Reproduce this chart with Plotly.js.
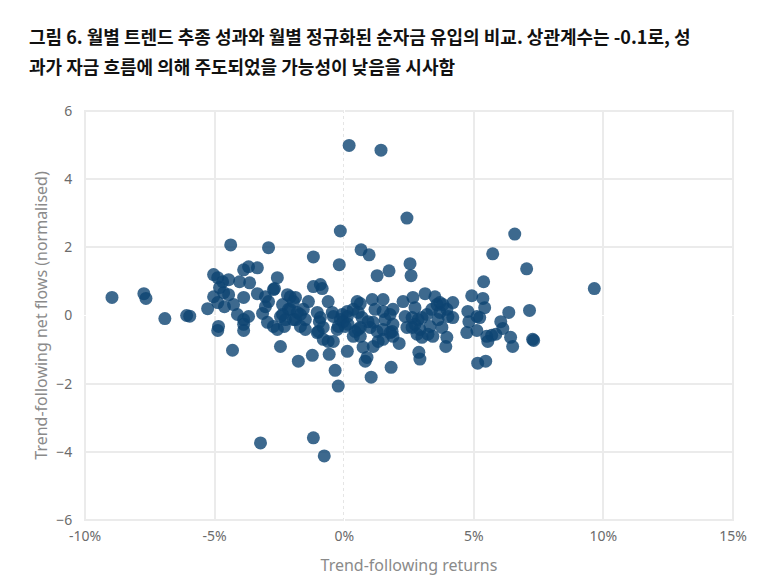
<!DOCTYPE html>
<html>
<head>
<meta charset="utf-8">
<script src="https://cdn.plot.ly/plotly-3.0.1.min.js"></script>
<style>
  html, body { margin: 0; padding: 0; background: #fff; }
  #chart { width: 773px; height: 583px; }
</style>
</head>
<body>
<div id="chart"></div>
<script>
// --- DATA ---
// monthly trend-following returns, in %
const returns = [
  -8.96,-7.73,-7.65,-6.92,-6.08,-5.96,-5.27,-4.85,-4.88,-4.31,
  -4.38,-2.92,-5.04,-4.88,-4.69,-4.46,-4.04,-3.88,-3.69,-3.35,
  -3.65,-2.58,-4.81,-4.65,-4.46,-5.04,-4.88,-4.62,-4.27,-3.88,
  -3.35,-2.69,-3.04,-2.92,-3.04,-3.15,-4.12,-3.88,-3.69,-3.88,
  -3.88,-2.96,-2.73,-2.31,-2.58,-2.19,-1.96,-2.38,-2.15,-1.81,
  -2.46,-2.27,-1.96,-1.69,-1.38,-0.92,-1.19,-0.62,-1.04,-0.96,
  -1.04,-0.81,-0.62,-0.42,-0.42,-0.15,0.12,-0.27,-2.08,-2.08,
  -1.88,-1.50,-1.58,-1.69,-2.38,-1.50,-0.92,-0.81,-1.00,-0.23,
  -0.04,-0.85,-2.73,
  -2.46,-1.77,-1.23,-0.58,-0.35,-0.23,0.12,-3.23,-1.19,-0.77,
  0.19,1.42,2.42,0.65,0.96,-0.15,-0.19,-1.19,2.54,2.58,1.27,1.73,
  6.58,5.73,7.04,5.38,9.65,7.15,7.27,7.31,6.35,4.92,
  5.35,5.42,6.04,6.12,6.42,6.50,5.50,5.69,5.85,5.54,
  5.15,5.46,4.73,4.81,5.12,5.12,5.23,2.88,2.92,1.81,
  1.04,3.96,3.92,2.12,
  0.50,0.62,1.08,1.50,2.27,2.65,3.12,3.50,3.69,4.19,
  0.12,0.35,0.54,-0.08,1.19,1.50,1.88,1.77,1.58,0.92,
  1.12,2.35,2.62,2.73,2.85,2.62,2.92,3.19,3.38,3.58,
  3.69,3.62,3.96,4.19,3.31,3.42,3.23,4.77,3.81,
  0.42,0.62,0.35,0.73,1.12,1.31,1.50,0.88,0.81,1.85,
  1.88,1.27,1.00,0.04,0.62,1.50,1.77,1.88,2.42,2.81,
  -0.46,0.15,2.73,3.00,3.77,0.54,3.00,0.69,4.00,-1.88
];

// monthly normalised net flows
const netFlows = [
  0.53,0.64,0.50,-0.09,0.00,-0.02,0.20,-0.32,-0.44,-1.02,
  2.07,1.99,1.20,1.11,0.99,1.05,0.99,1.34,1.43,1.40,
  0.96,1.11,0.82,0.67,0.61,0.55,0.38,0.26,0.32,0.53,
  0.64,0.79,0.55,0.41,0.26,0.06,0.03,-0.12,-0.03,-0.26,
  -0.44,-0.20,-0.32,-0.32,-0.41,0.61,0.41,0.32,0.18,0.09,
  -0.03,-0.12,-0.12,-0.32,0.41,0.91,0.85,0.41,0.09,-0.18,
  -0.50,-0.70,-0.76,-0.76,-0.03,-0.12,-0.03,-0.41,0.55,0.18,
  -0.12,-0.12,0.18,0.03,0.03,-0.41,-0.06,-0.35,-0.47,-0.32,
  -0.18,0.79,0.76,
  -0.91,-1.34,-1.17,-1.14,-1.61,-2.07,-1.05,-3.74,-3.59,-4.12,
  4.99,4.85,2.86,1.93,1.78,2.48,1.49,1.72,1.52,1.17,1.17,1.31,
  2.39,1.81,1.37,0.99,0.79,0.15,-0.70,-0.73,0.09,0.58,
  0.50,0.23,-0.18,-0.38,-0.64,-0.91,-0.61,-0.58,-0.55,-0.76,
  -1.40,-1.34,-0.50,-0.18,-0.44,-0.03,-0.06,-1.08,-1.28,-1.52,
  -1.81,-0.64,-0.91,-0.82,
  0.41,0.35,0.47,0.47,0.41,0.53,0.64,0.55,0.38,0.38,
  0.12,0.18,0.09,0.03,0.18,0.12,0.18,0.03,-0.12,-0.18,
  -0.20,-0.03,-0.06,-0.26,-0.12,-0.35,-0.41,0.03,0.18,0.32,
  0.09,-0.12,0.18,-0.06,-0.32,-0.61,-0.55,0.12,0.32,
  -0.47,-0.61,-0.61,-0.93,-0.91,-0.76,-0.70,-1.23,-1.34,-0.47,
  -0.61,-0.47,-0.35,-0.32,-0.35,-0.41,-0.50,-0.26,-0.35,-0.55,
  0.09,-0.26,0.23,-0.06,-0.35,-0.41,-0.64,-0.06,-0.03,0.53
];

const xTicks = [-10, -5, 0, 5, 10, 15];
const yTicks = [-6, -4, -2, 0, 2, 4, 6];

const titleLines = [
  '그림 6. 월별 트렌드 추종 성과와 월별 정규화된 순자금 유입의 비교. 상관계수는 -0.1로, 성',
  '과가 자금 흐름에 의해 주도되었을 가능성이 낮음을 시사함'
];

// --- STYLE ---
const tickFont = { family: 'Noto Sans, sans-serif', size: 14, color: '#6b6b6b' };
const axisTitleFont = { family: 'Noto Sans, sans-serif', size: 16, color: '#8a8a8a' };
const gridColor = '#ebebeb';

const trace = {
  type: 'scatter',
  mode: 'markers',
  x: returns,
  y: netFlows,
  marker: {
    size: 13,
    color: 'rgb(12,68,114)',
    opacity: 0.8,
    line: { width: 0 }
  },
  hoverinfo: 'x+y'
};

const layout = {
  width: 773,
  height: 583,
  margin: { l: 84, r: 39, t: 110, b: 62 },
  paper_bgcolor: '#ffffff',
  plot_bgcolor: '#ffffff',
  showlegend: false,
  xaxis: {
    // a hair wider than the ticks so the edge gridlines get drawn
    range: [-10.04, 15.04],
    tickvals: xTicks,
    ticktext: xTicks.map(v => v + '%'),
    showgrid: true,
    gridcolor: gridColor,
    gridwidth: 1.5,
    zeroline: true,
    zerolinecolor: '#ffffff',
    showline: false,
    ticks: 'outside',
    ticklen: 2,
    tickcolor: 'rgba(0,0,0,0)',
    tickfont: tickFont,
    title: { text: 'Trend-following returns', font: axisTitleFont, standoff: 16 }
  },
  yaxis: {
    range: [-6.03, 6.03],
    tickvals: yTicks,
    showgrid: true,
    gridcolor: gridColor,
    gridwidth: 1.5,
    zeroline: true,
    zerolinecolor: '#ffffff',
    showline: false,
    ticks: 'outside',
    ticklen: 8,
    tickcolor: 'rgba(0,0,0,0)',
    tickfont: tickFont,
    title: { text: 'Trend-following net flows (normalised)', font: axisTitleFont, standoff: 4 }
  },
  shapes: [
    { type: 'line', xref: 'x', yref: 'paper', x0: 0, x1: 0, y0: 0, y1: 1,
      line: { color: '#a8a8a8', width: 1, dash: 'dot' }, layer: 'between' },
    { type: 'line', xref: 'paper', yref: 'y', x0: 0, x1: 1, y0: 0, y1: 0,
      line: { color: '#a8a8a8', width: 1, dash: 'dot' }, layer: 'between' }
  ],
  annotations: titleLines.map((line, i) => ({
    text: '<b>' + line + '</b>',
    xref: 'paper', yref: 'paper',
    x: -0.088, y: 1.18 - i * 0.073,
    xanchor: 'left', yanchor: 'middle',
    showarrow: false,
    font: { family: 'Noto Sans CJK KR, sans-serif', size: 18, color: '#111111' }
  }))
};

Plotly.newPlot('chart', [trace], layout, { displayModeBar: false, responsive: false });
</script>
</body>
</html>
